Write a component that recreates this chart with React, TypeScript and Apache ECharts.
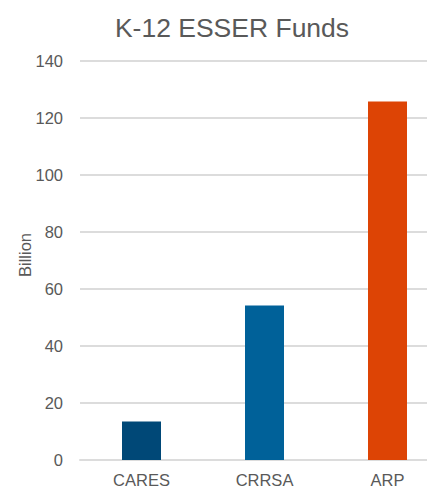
import React, { useEffect, useRef } from "react";
import * as echarts from "echarts";

const categories = ["CARES", "CRRSA", "ARP"];
const values = [13.5, 54.2, 125.8];
const barColors = ["#004877", "#006199", "#DD4405"];
const yTicks = { min: 0, max: 140, interval: 20 };
const yAxisTitle = "Billion";

export default function App() {
  const ref = useRef<HTMLDivElement>(null);
  useEffect(() => {
    if (!ref.current) return;
    const chart = echarts.init(ref.current, null, { renderer: "svg" });
    chart.setOption({
      animation: false,
      backgroundColor: "#ffffff",
      textStyle: { fontFamily: "Liberation Sans, Arial, sans-serif" },
      title: {
        text: "K-12 ESSER Funds",
        left: 227,
        top: 9,
        textAlign: "center",
        textStyle: {
          fontSize: 26.5,
          fontWeight: "normal",
          color: "#595959",
          fontFamily: "Liberation Sans, Arial, sans-serif",
        },
      },
      grid: {
        left: 80,
        top: 61,
        width: 369,
        height: 399,
        containLabel: false,
        outerBoundsMode: "none",
      },
      xAxis: {
        type: "category",
        data: categories,
        axisLine: { show: true, lineStyle: { color: "#dcdcdc", width: 2 } },
        axisTick: { show: false },
        axisLabel: { color: "#595959", fontSize: 16.5, margin: 11 },
      },
      yAxis: {
        type: "value",
        min: yTicks.min,
        max: yTicks.max,
        interval: yTicks.interval,
        axisLine: { show: false },
        axisTick: { show: false },
        axisLabel: { color: "#595959", fontSize: 16.5, margin: 17 },
        splitLine: { lineStyle: { color: "#dcdcdc", width: 2 } },
      },
      series: [
        {
          type: "bar",
          data: values.map((v, i) => ({ value: v, itemStyle: { color: barColors[i] } })),
          barWidth: 39,
        },
      ],
      graphic: [
        {
          type: "rect",
          shape: { x: 427, y: 40, width: 20, height: 425 },
          style: { fill: "#ffffff" },
          z: 100,
        },
        {
          type: "text",
          x: 25,
          y: 255,
          rotation: Math.PI / 2,
          style: {
            text: yAxisTitle,
            fill: "#595959",
            font: "normal 16.5px 'Liberation Sans', Arial, sans-serif",
            align: "center",
            verticalAlign: "middle",
          },
        },
      ],
    });
    return () => chart.dispose();
  }, []);
  return (
    <div
      ref={ref}
      style={{ position: "fixed", left: 0, top: 0, width: 435, height: 487 }}
    />
  );
}
